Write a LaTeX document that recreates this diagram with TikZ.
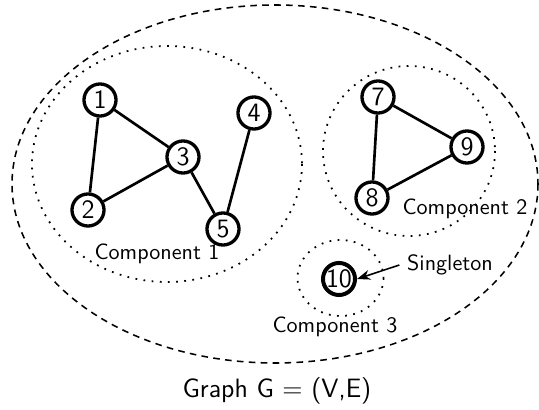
\documentclass[tikz,border=0pt]{standalone}
\usetikzlibrary{arrows.meta}
\begin{document}
\begin{tikzpicture}[x=0.4525pt,y=-0.4525pt,
  font=\sffamily,
  vtx/.style={circle,draw,line width=1.5pt,inner sep=0.6pt,minimum size=14.5pt,font=\sffamily\large},
  edge/.style={line width=1.2pt},
  comp/.style={line width=0.8pt,dash pattern=on 0.8pt off 2.9pt},
  graphbox/.style={line width=0.7pt,dash pattern=on 3pt off 2.4pt},
  lbl/.style={font=\sffamily}]
\useasboundingbox (0,0) rectangle (539,410);
% outer graph
\draw[graphbox] (275,184) ellipse [x radius=263, y radius=179];
% components
\draw[comp] (167,164) ellipse [x radius=135, y radius=118];
\draw[comp] (409,151) ellipse [x radius=86, y radius=85];
\draw[comp] (340.5,278) ellipse [x radius=43, y radius=38];
% vertices
\node[vtx] (n1) at (100,100) {1};
\node[vtx] (n2) at (88,210) {2};
\node[vtx] (n3) at (183,157) {3};
\node[vtx] (n4) at (254,113) {4};
\node[vtx] (n5) at (223,229) {5};
\node[vtx] (n7) at (378,97) {7};
\node[vtx] (n9) at (467,147) {9};
\node[vtx] (n8) at (372,198) {8};
\node[vtx,inner sep=0pt,line width=1.8pt] (n10) at (339,279) {10};
% edges
\draw[edge] (n1) -- (n2);
\draw[edge] (n1) -- (n3);
\draw[edge] (n2) -- (n3);
\draw[edge] (n3) -- (n5);
\draw[edge] (n4) -- (n5);
\draw[edge] (n7) -- (n9);
\draw[edge] (n7) -- (n8);
\draw[edge] (n8) -- (n9);
% labels
\node[lbl] (c1) at (157,254) {Component 1};
\node[lbl] (c2) at (465,209) {Component 2};
\node[lbl] (c3) at (335,327) {Component 3};
\node[lbl] (sg) at (450,265) {Singleton};
\draw[-{Stealth[length=6pt,width=4.5pt]},line width=0.7pt] (sg.west) -- (n10.east);
\node[font=\sffamily\large] (title) at (277,391) {Graph G $=$ (V,E)};
\end{tikzpicture}
\end{document}
